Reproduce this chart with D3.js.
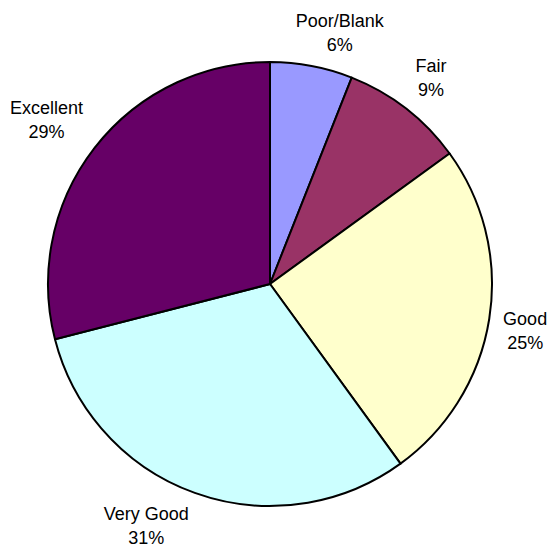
<!DOCTYPE html>
<html>
<head>
<meta charset="utf-8">
<script src="https://cdn.jsdelivr.net/npm/d3@7"></script>
<style>
html,body{margin:0;padding:0;background:#fff;}
svg{display:block;}
</style>
</head>
<body>
<svg id="chart" width="547" height="553"></svg>
<script>
const categories = ["Poor/Blank", "Fair", "Good", "Very Good", "Excellent"];
const values = [6, 9, 25, 31, 29];
const colors = ["#9999FF", "#993366", "#FFFFCC", "#CCFFFF", "#660066"];

const svg = d3.select("#chart");
const cx = 270, cy = 284, r = 222;
const g = svg.append("g").attr("transform", `translate(${cx},${cy})`);

const data = categories.map((c, i) => ({cat: c, value: values[i], color: colors[i]}));
const pie = d3.pie().value(d => d.value).sort(null);
const arcs = pie(data);
const arc = d3.arc().innerRadius(0).outerRadius(r);

g.selectAll("path").data(arcs).join("path")
  .attr("d", arc)
  .attr("fill", d => d.data.color)
  .attr("stroke", "#000")
  .attr("stroke-width", 2)
  .attr("stroke-linejoin", "round");

const fontSize = 18, lineGap = 24, gap = 12;
const clamp = v => Math.max(-1, Math.min(1, v));
const total = d3.sum(values);

const lbl = g.selectAll("g.lbl").data(arcs).join("g").attr("class", "lbl");
lbl.each(function(d) {
  const sel = d3.select(this);
  const t1 = sel.append("text").text(d.data.cat)
    .attr("font-family", "Liberation Sans, Arial, Helvetica, sans-serif")
    .attr("font-size", fontSize).attr("fill", "#000").attr("text-anchor", "middle");
  const t2 = sel.append("text").text(Math.round(d.data.value / total * 100) + "%")
    .attr("font-family", "Liberation Sans, Arial, Helvetica, sans-serif")
    .attr("font-size", fontSize).attr("fill", "#000").attr("text-anchor", "middle");
  const w = Math.max(t1.node().getComputedTextLength(), t2.node().getComputedTextLength()) + 4;
  const h = 3 + 13 + lineGap + 3;
  const a = (d.startAngle + d.endAngle) / 2;
  const ax = Math.sin(a) * (r + gap), ay = -Math.cos(a) * (r + gap);
  const bx = ax + clamp(Math.sin(a) * 3) * w / 2;
  const by = ay + clamp(-Math.cos(a) * 3) * h / 2;
  const top = by - h / 2;
  t1.attr("x", bx).attr("y", top + 16);
  t2.attr("x", bx).attr("y", top + 16 + lineGap);
});
</script>
</body>
</html>
